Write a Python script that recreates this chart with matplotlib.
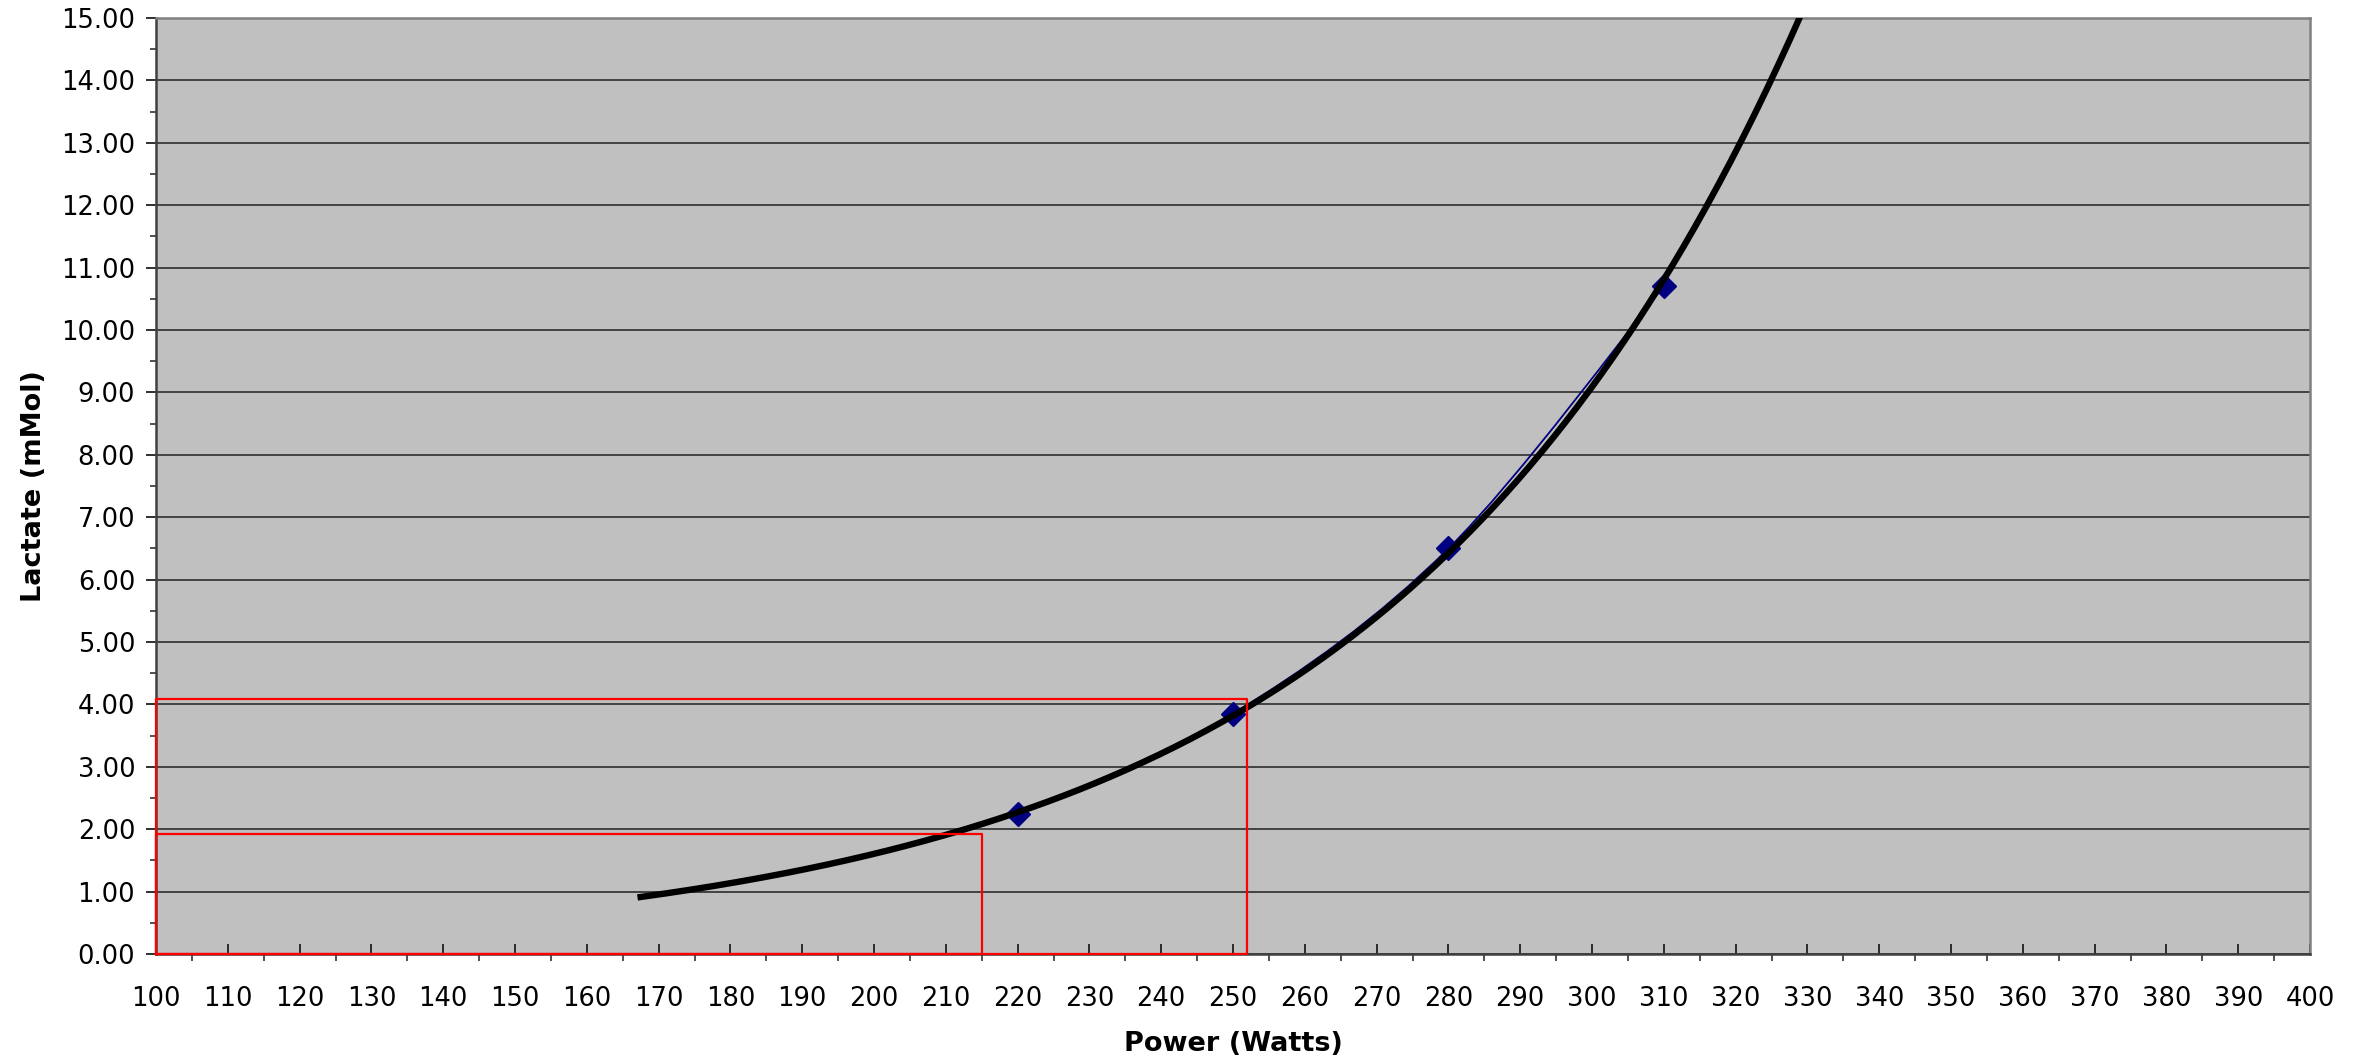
import numpy as np
import matplotlib
matplotlib.use("Agg")
import matplotlib.pyplot as plt
from matplotlib.path import Path
from matplotlib.patches import PathPatch
from matplotlib.ticker import MultipleLocator, FormatStrFormatter

# measured points
power = [220, 250, 280, 310]
lactate = [2.25, 3.85, 6.5, 10.7]

# exponential trendline range (Excel trendline with backward forecast)
trend_start = 167.5
trend_end = 332

# threshold boxes: (power, lactate)
thresholds_power = [215, 252]
thresholds_lactate = [1.93, 4.08]

x_min, x_max = 100, 400
y_min, y_max = 0, 15

plt.rcParams['font.family'] = ['DejaVu Sans']

fig = plt.figure(figsize=(23.71, 10.62), dpi=100)
ax = fig.add_axes([0.0658, 0.1017, 0.9085, 0.8813])
ax.set_facecolor('#C0C0C0')

# horizontal gridlines
ax.yaxis.grid(True, color='#202020', linewidth=1.1)
ax.set_axisbelow(True)

# Excel style smoothed series line: cubic bezier through the points
pts = np.column_stack([power, lactate]).astype(float)
padded = np.vstack([pts[0], pts, pts[-1]])
verts = [tuple(pts[0])]
codes = [Path.MOVETO]
for i in range(len(pts) - 1):
    p0, p1, p2, p3 = padded[i], padded[i + 1], padded[i + 2], padded[i + 3]
    verts += [tuple(p1 + (p2 - p0) / 6), tuple(p2 - (p3 - p1) / 6), tuple(p2)]
    codes += [Path.CURVE4] * 3
ax.add_patch(PathPatch(Path(verts, codes), facecolor='none', edgecolor='#000080',
                       linewidth=1.3, zorder=3))
ax.plot(power, lactate, linestyle='none', marker='D', markersize=12,
        markerfacecolor='#000080', markeredgecolor='#000080', zorder=3)

# exponential fit of the data, like Excel's trendline
b, ln_a = np.polyfit(power, np.log(lactate), 1)
xt = np.linspace(trend_start, trend_end, 300)
ax.plot(xt, np.exp(ln_a) * np.exp(b * xt), color='black', linewidth=4.6, zorder=4)

# red threshold boxes
for tp, tl in zip(thresholds_power, thresholds_lactate):
    ax.plot([x_min, tp, tp, x_min, x_min], [y_min, y_min, tl, tl, y_min],
            color='#FF0000', linewidth=1.6, zorder=5, clip_on=False)

ax.set_xlim(x_min, x_max)
ax.set_ylim(y_min, y_max)

ax.xaxis.set_major_locator(MultipleLocator(10))
ax.xaxis.set_minor_locator(MultipleLocator(5))
ax.yaxis.set_major_locator(MultipleLocator(1))
ax.yaxis.set_minor_locator(MultipleLocator(0.5))
ax.yaxis.set_major_formatter(FormatStrFormatter('%.2f'))

ax.tick_params(axis='x', which='major', direction='in', length=7, width=1.3,
               color='#202020', pad=23, labelsize=18.5)
ax.tick_params(axis='x', which='minor', direction='out', length=5, width=1.1, color='#202020')
ax.tick_params(axis='y', which='major', direction='out', length=7, width=1.3,
               color='#202020', pad=8, labelsize=18.5)
ax.tick_params(axis='y', which='minor', direction='out', length=4.5, width=1.1, color='#202020')

for side in ['left', 'bottom']:
    ax.spines[side].set_color('#404040')
    ax.spines[side].set_linewidth(1.8)
for side in ['top', 'right']:
    ax.spines[side].set_color('#808080')
    ax.spines[side].set_linewidth(1.8)

ax.set_xlabel('Power (Watts)', fontsize=19.5, fontweight='bold', labelpad=14)
ax.set_ylabel('Lactate (mMol)', fontsize=19.5, fontweight='bold', labelpad=10)

fig.savefig('out.png', dpi=100)
